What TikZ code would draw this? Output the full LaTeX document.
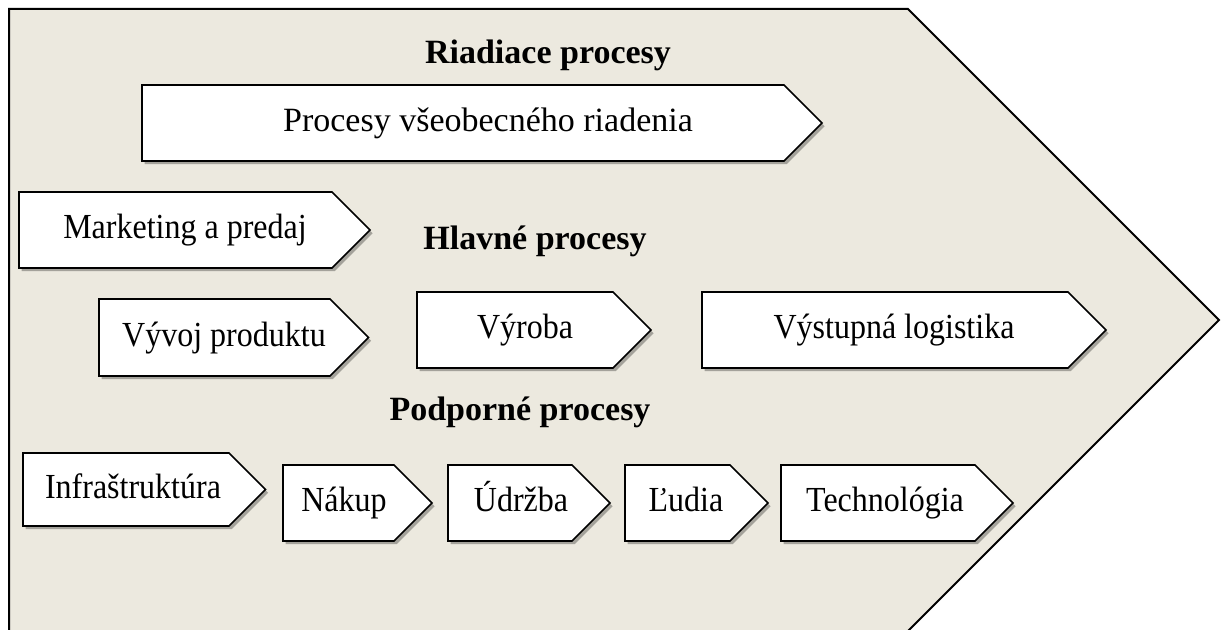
\documentclass[tikz,border=0pt]{standalone}
\usepackage{fontspec}
\setmainfont{Liberation Serif}
\usetikzlibrary{shadows}
\definecolor{bgbeige}{HTML}{ECE9DF}
\tikzset{
  boxst/.style={draw=black, line width=0.8pt, fill=white, line join=miter,
    drop shadow={shadow xshift=1.3pt, shadow yshift=-1.6pt, fill=black, opacity=0.3}},
  lbl/.style={inner sep=0pt, anchor=base, font=\fontsize{16}{19}\selectfont},
  head/.style={inner sep=0pt, anchor=base, font=\fontsize{17}{20}\selectfont\bfseries},
}
\newcommand\pbox[7]{% name, left, top, right, bottom, textx, text
  \draw[boxst] (#2,#3) -- (#4,#3) -- ({#4+(#5-#3)/2},{(#3+#5)/2}) -- (#4,#5) -- (#2,#5) -- cycle;
  \node[lbl] (#1) at (#6,{(#3+#5)/2+9}) {\scalebox{1}[1.1]{#7}};
}
\begin{document}
\begin{tikzpicture}[x=0.5pt, y=-0.5pt]
\useasboundingbox (0,0) rectangle (1227,630);
\begin{scope}
\clip (0,0) rectangle (1227,630);
\draw[fill=bgbeige, line width=1pt, line join=miter] (9,645) -- (9,9) -- (908,9) -- (1219,320) -- (894,645);
\end{scope}
\node[head] (riad) at (548,64) {Riadiace procesy};
\node[head] (hlav) at (535,250) {Hlavné procesy};
\node[head] (podp) at (520,421) {Podporné procesy};
\draw[boxst] (142,85) -- (784,85) -- (822,123) -- (784,161) -- (142,161) -- cycle;
\node[lbl, font=\fontsize{17}{20}\selectfont] (vseob) at (488,132) {Procesy všeobecného riadenia};
\pbox{mark}{19}{192}{332}{268}{185}{Marketing a predaj}
\pbox{vyvoj}{99}{299}{330}{376}{224}{Vývoj produktu}
\pbox{vyroba}{417}{292}{613}{368}{525}{Výroba}
\pbox{logist}{702}{292}{1068}{368}{894}{Výstupná logistika}
\pbox{infra}{23}{453}{229}{526}{133}{Infraštruktúra}
\pbox{nakup}{283}{465}{394}{541}{344}{Nákup}
\pbox{udrz}{448}{465}{572}{541}{521}{Údržba}
\pbox{ludia}{625}{465}{730}{541}{686}{Ľudia}
\pbox{tech}{781}{465}{975}{541}{885}{Technológia}
\end{tikzpicture}
\end{document}
